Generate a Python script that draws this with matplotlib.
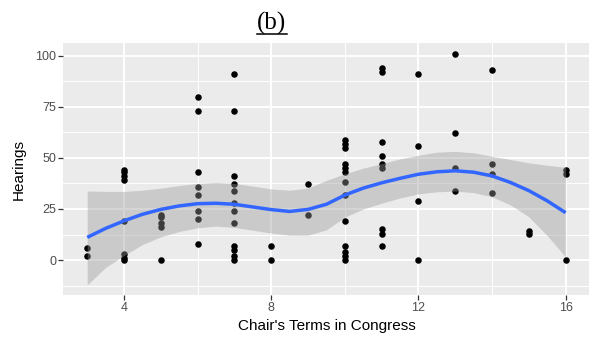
import numpy as np
import matplotlib
matplotlib.use("Agg")
import matplotlib.pyplot as plt
from matplotlib.lines import Line2D

# Hearings held, by the number of terms the committee chair has served
chair_terms = (
    [3] * 2 + [4] * 8 + [5] * 5 + [6] * 8 + [7] * 12 + [8] * 2 + [9] * 2
    + [10] * 13 + [11] * 9 + [12] * 4 + [13] * 4 + [14] * 4 + [15] * 2 + [16] * 3
)
hearings = [
    6, 2,
    44, 43, 41, 39, 19, 3, 1, 0,
    22, 21, 18, 16, 0,
    80, 73, 43, 36, 32, 24, 20, 8,
    91, 73, 41, 37, 34, 28, 24, 18, 7, 5, 2, 0,
    7, 0,
    37, 22,
    59, 57, 55, 47, 45, 43, 38, 32, 19, 7, 4, 2, 0,
    94, 92, 58, 51, 47, 45, 15, 13, 7,
    91, 56, 29, 0,
    101, 62, 45, 34,
    93, 47, 42, 33,
    14, 13,
    44, 42, 0,
]

# loess smooth and its 95% confidence band
smooth_terms = [3.0, 3.5, 4.0, 4.5, 5.0, 5.5, 6.0, 6.5, 7.0, 7.5, 8.0, 8.5, 9.0, 9.5,
                10.0, 10.5, 11.0, 11.5, 12.0, 12.5, 13.0, 13.5, 14.0, 14.5, 15.0,
                15.5, 16.0]
smooth_fit = [11.1, 15.5, 19.2, 22.4, 24.8, 26.5, 27.6, 27.8, 27.3, 26.0, 24.7, 23.8,
              24.8, 27.3, 31.8, 35.2, 37.8, 40.0, 42.0, 43.2, 43.7, 43.0, 41.2, 38.0,
              34.0, 29.0, 23.2]
smooth_upper = [33.8, 33.6, 33.6, 34.2, 35.2, 36.5, 37.5, 38.0, 37.5, 36.2, 34.8, 34.2,
                35.2, 39.0, 42.2, 45.0, 47.2, 49.5, 51.3, 52.8, 53.2, 52.5, 50.8, 49.2,
                47.6, 46.4, 45.4]
smooth_lower = [-12.2, -3.6, 2.2, 7.6, 11.4, 14.0, 15.8, 16.6, 16.0, 14.6, 13.2, 12.2,
                12.2, 14.8, 21.0, 25.0, 27.8, 30.4, 32.4, 33.4, 33.8, 33.0, 31.0, 27.0,
                21.2, 12.0, 1.5]

x_ticks = [4, 8, 12, 16]
y_ticks = [0, 25, 50, 75, 100]

W, H = 589, 339
fig = plt.figure(figsize=(W / 100, H / 100), dpi=100)
fig.patch.set_facecolor("white")

left, right, top, bottom = 63.3, 589.5, 43.3, 295.0
ax = fig.add_axes([left / W, 1 - bottom / H, (right - left) / W, (bottom - top) / H])
ax.set_facecolor("#EBEBEB")
for s in ax.spines.values():
    s.set_visible(False)

ax.set_xlim(2.35, 16.65)
ax.set_ylim(-17.1, 106.1)
ax.set_xticks(x_ticks)
ax.set_xticks([6, 10, 14], minor=True)
ax.set_yticks(y_ticks)
ax.set_yticks([-12.5, 12.5, 37.5, 62.5, 87.5], minor=True)
ax.grid(which="major", color="white", linewidth=1.4)
ax.grid(which="minor", color="white", linewidth=0.7)
ax.set_axisbelow(True)

tick_font = dict(family="Liberation Sans", size=9)
ax.set_xticklabels([str(v) for v in x_ticks], color="#4D4D4D", fontdict=tick_font)
ax.set_yticklabels([str(v) for v in y_ticks], color="#4D4D4D", fontdict=tick_font)
ax.tick_params(which="major", length=3.5, width=0.9, color="#333333", pad=1.5)
ax.tick_params(which="minor", length=0)

ax.scatter(chair_terms, hearings, s=22, color="black", linewidths=0, zorder=2)
ax.fill_between(smooth_terms, smooth_lower, smooth_upper, color="#999999", alpha=0.4,
                linewidth=0, zorder=3)
ax.plot(smooth_terms, smooth_fit, color="#3366FF", linewidth=2.5, zorder=4,
        solid_capstyle="butt", solid_joinstyle="round")

fig.text((left + right) / 2 / W, 1 - 326 / H, "Chair's Terms in Congress",
         ha="center", va="center", family="Liberation Sans", size=11)
fig.text(18.5 / W, 1 - 169 / H, "Hearings", rotation=90,
         ha="center", va="center", family="Liberation Sans", size=11)

fig.text(271.7 / W, 1 - 23 / H, "(b)", ha="center", va="center",
         family="Liberation Serif", size=18)
fig.add_artist(Line2D([256.5 / W, 287 / W], [1 - 33.5 / H, 1 - 33.5 / H],
                      transform=fig.transFigure, color="black", linewidth=1.1))

fig.savefig("out.png", dpi=100)
